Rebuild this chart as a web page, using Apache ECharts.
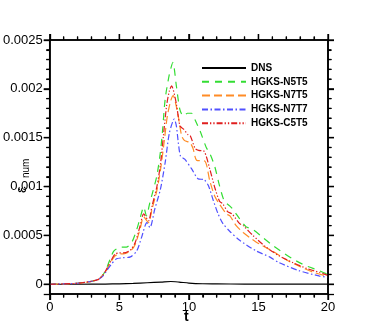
<!DOCTYPE html>
<html>
<head>
<meta charset="utf-8">
<script src="https://cdn.jsdelivr.net/npm/echarts@6/dist/echarts.min.js"></script>
<style>html,body{margin:0;padding:0;background:#fff;}#c{width:374px;height:332px;}</style>
</head>
<body>
<div id="c"></div>
<script>
var seriesNames = ['DNS', 'HGKS-N5T5', 'HGKS-N7T5', 'HGKS-N7T7', 'HGKS-C5T5'];
var xMajor = [0, 5, 10, 15, 20];
var yMajor = [0, 0.0005, 0.001, 0.0015, 0.002, 0.0025];

var dns = [[0,0],[2,0],[4,0.000002],[5,0.000004],[6,0.000008],[7,0.000015],[8,0.000022],[8.7,0.000028],[9.3,0.000022],[10,0.000012],[11,0.000005],[12,0.000003],[14,0.000002],[20,0.000001]];

var n5t5 = [[0,0],[1,0.000004],[2,0.00001],[3,0.00003],[3.5,0.00005],[3.8,0.00009],[4.1,0.00017],[4.4,0.00028],[4.6,0.00034],[4.9,0.00037],[5.1,0.00038],[5.5,0.00038],[5.9,0.00043],[6.25,0.00056],[6.5,0.00068],[6.75,0.00079],[6.95,0.0007],[7.2,0.00084],[7.45,0.00097],[7.7,0.00111],[7.95,0.00135],[8.1,0.00156],[8.3,0.0019],[8.6,0.00215],[8.85,0.00227],[9.1,0.00203],[9.35,0.00179],[9.6,0.00172],[9.9,0.00175],[10.2,0.00175],[10.45,0.00168],[10.8,0.00157],[11.25,0.0014],[11.5,0.00134],[11.85,0.00121],[12.2,0.00101],[12.55,0.00085],[12.95,0.0008],[13.2,0.00076],[13.65,0.00067],[14.1,0.00059],[14.6,0.00056],[15.3,0.00048],[16.0,0.0004],[16.6,0.00034],[17.45,0.00026],[18.4,0.00019],[19.35,0.00014],[20,0.0001]];

var n7t5 = [[0,0],[1,0.000004],[2,0.00001],[3,0.00003],[3.5,0.00005],[3.8,0.00009],[4.1,0.00015],[4.4,0.00023],[4.7,0.00029],[5.0,0.00031],[5.3,0.00031],[5.8,0.00034],[6.15,0.00041],[6.5,0.00057],[6.75,0.00069],[7.1,0.00063],[7.35,0.00077],[7.7,0.00096],[7.95,0.00116],[8.2,0.00143],[8.45,0.00172],[8.7,0.00188],[8.88,0.00193],[9.05,0.00185],[9.24,0.00172],[9.48,0.00152],[9.7,0.00147],[10.07,0.00145],[10.3,0.00139],[10.55,0.00127],[11.15,0.00126],[11.5,0.00106],[11.86,0.0009],[12.2,0.00082],[12.7,0.00072],[12.95,0.0007],[13.4,0.0006],[13.9,0.00053],[14.85,0.00043],[16.0,0.00034],[17,0.00025],[18,0.00018],[19,0.00012],[20,0.00008]];

var n7t7 = [[0,0],[1,0.000004],[2,0.00001],[3,0.00003],[3.5,0.00005],[3.8,0.00008],[4.1,0.00014],[4.4,0.0002],[4.8,0.00026],[5.2,0.00027],[5.8,0.00028],[6.25,0.00034],[6.6,0.00048],[6.98,0.00063],[7.2,0.00058],[7.55,0.00077],[7.95,0.00097],[8.3,0.00125],[8.6,0.00155],[8.95,0.00169],[9.1,0.00162],[9.24,0.00145],[9.4,0.00131],[9.7,0.00128],[10.2,0.00118],[10.65,0.00108],[11.1,0.00107],[11.4,0.00101],[11.75,0.00086],[12.1,0.00072],[12.45,0.00062],[12.95,0.00054],[13.65,0.00045],[14.85,0.00034],[15.8,0.00028],[16.5,0.00022],[17.9,0.00014],[19.35,0.000085],[20,0.00007]];

var c5t5 = [[0,0],[1,0.000004],[2,0.00001],[3,0.00003],[3.5,0.00005],[3.8,0.00009],[4.1,0.00016],[4.4,0.00024],[4.7,0.00031],[5.0,0.00032],[5.3,0.00032],[5.8,0.00035],[6.15,0.00043],[6.5,0.0006],[6.75,0.00072],[7.1,0.00065],[7.35,0.0008],[7.7,0.001],[7.95,0.00122],[8.17,0.00152],[8.4,0.00183],[8.6,0.00198],[8.76,0.00203],[8.95,0.00195],[9.12,0.00183],[9.36,0.00162],[9.6,0.00159],[9.95,0.00153],[10.1,0.00152],[10.45,0.00139],[10.7,0.00137],[11.1,0.00136],[11.5,0.00118],[11.86,0.00099],[12.2,0.00085],[12.45,0.00082],[12.8,0.00074],[13.1,0.00072],[13.65,0.00062],[13.9,0.0006],[14.6,0.0005],[15.55,0.00038],[16.5,0.00029],[17.5,0.00022],[18.5,0.00016],[19.4,0.00012],[20,0.00009]];

var FONT = 'Liberation Sans, Arial, sans-serif';
var XMIN = 0, XMAX = 20, YMIN = -0.0001, YMAX = 0.0025;
function axLine() { return { show: true, onZero: false, lineStyle: { color: '#000', width: 1.6 } }; }
function tick(len) { return { show: true, inside: false, length: len, lineStyle: { color: '#000', width: 1.3 } }; }
function minor(len) { return { show: true, splitNumber: 5, length: len, lineStyle: { color: '#000', width: 1.1 } }; }

function xAx(pos, showLabel) {
  return {
    type: 'value', min: XMIN, max: XMAX, interval: 5, position: pos,
    axisLine: axLine(), axisTick: tick(6), minorTick: minor(3.5),
    axisLabel: { show: showLabel, margin: 7, fontSize: 13, color: '#000', fontFamily: FONT },
    splitLine: { show: false }, minorSplitLine: { show: false }
  };
}
function yAx(pos, showLabel) {
  return {
    type: 'value', min: YMIN, max: YMAX, position: pos,
    axisLine: axLine(), axisTick: tick(6), minorTick: minor(3.5),
    axisLabel: { show: showLabel, margin: 7, fontSize: 13, color: '#000', fontFamily: FONT },
    splitLine: { show: false }, minorSplitLine: { show: false }
  };
}

var colors = ['#000000', '#33dd33', '#ff8c26', '#5050ff', '#e01e1e'];
var dashes = ['solid', [7, 6], [8, 4], [6, 2.5, 1.5, 2.5], [6, 2, 1.3, 2, 1.3, 2]];
var datas = [dns, n5t5, n7t5, n7t7, c5t5];

var textGraphics = [
  { type: 'text', id: 'tname', x: 184, y: 310, style: { text: 't', font: 'bold 14px Liberation Sans', fill: '#000' } },
  { type: 'text', id: 'eps', x: 14, y: 193, rotation: Math.PI / 2, style: { text: 'ε', font: '15px Liberation Sans', fill: '#000' } },
  { type: 'text', id: 'num', x: 21, y: 178, rotation: Math.PI / 2, style: { text: 'num', font: '10px Liberation Sans', fill: '#000' } }
];

var chart = echarts.init(document.getElementById('c'), null, { renderer: 'canvas' });
chart.setOption({
  backgroundColor: '#fff',
  animation: false,
  grid: { left: 49, right: 46, top: 40, bottom: 38 },
  xAxis: [xAx('bottom', true), xAx('top', false)],
  yAxis: [yAx('left', true), yAx('right', false)],
  legend: {
    orient: 'vertical', left: 196, top: 58,
    itemWidth: 44, itemHeight: 12, itemGap: 3.8,
    itemStyle: { opacity: 0 },
    textStyle: { fontWeight: 'bold', fontSize: 10, color: '#000', fontFamily: FONT },
    data: seriesNames
  },
  graphic: textGraphics,
  series: seriesNames.map(function (n, i) {
    return {
      name: n, type: 'line', data: datas[i], symbol: 'none', smooth: 0.25,
      lineStyle: { color: colors[i], width: 1.2, type: dashes[i] }
    };
  })
});

// Frame and ticks placed through the library's own axis scales
var px = function (v) { return chart.convertToPixel({ xAxisIndex: 0 }, v); };
var py = function (v) { return chart.convertToPixel({ yAxisIndex: 0 }, v); };
var x0 = px(XMIN), x1 = px(XMAX), y0 = py(YMIN), y1 = py(YMAX);
var els = textGraphics.slice();
var lineStyleMajor = { stroke: '#000', lineWidth: 1.3 };
els.push({ type: 'rect', id: 'frame', shape: { x: x0, y: y1, width: x1 - x0, height: y0 - y1 },
  style: { fill: 'none', stroke: '#000', lineWidth: 1.6 }, z: 50 });
var k = 0;
function addLine(a, b, c, d) {
  els.push({ type: 'line', id: 'tk' + (k++), shape: { x1: a, y1: b, x2: c, y2: d }, style: lineStyleMajor, z: 50 });
}
for (var t = XMIN; t <= XMAX; t++) {
  var L = xMajor.indexOf(t) >= 0 ? 6 : 3.5;
  var xx = px(t);
  addLine(xx, y0, xx, y0 + L);
  addLine(xx, y1, xx, y1 - L);
}
for (var j = 0; j <= 25; j++) {
  var v = +(j * 0.0001).toFixed(4);
  var isMajor = yMajor.indexOf(v) >= 0;
  var Ly = isMajor ? 6 : 3.5;
  var yy = py(v);
  addLine(x0, yy, x0 - Ly, yy);
  addLine(x1, yy, x1 + Ly, yy);
}
chart.setOption({ graphic: els });
</script>
</body>
</html>
